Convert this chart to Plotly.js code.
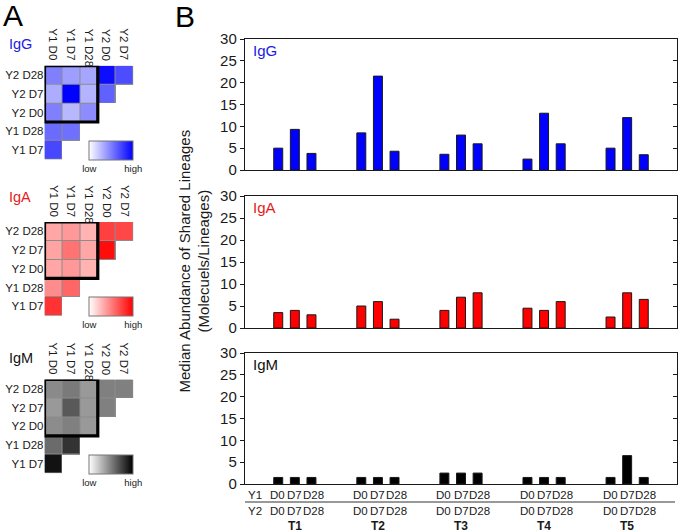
<!DOCTYPE html>
<html>
<head>
<meta charset="utf-8">
<script src="https://cdn.plot.ly/plotly-3.0.1.min.js"></script>
<style>html,body{margin:0;padding:0;background:#fff;}#chart{width:680px;height:532px;}</style>
</head>
<body>
<div id="chart"></div>
<script>
// ---------- DATA ----------
const groups = ['T1', 'T2', 'T3', 'T4', 'T5'];
const timepoints = ['D0', 'D7', 'D28'];

const igG_D0  = [5.0, 8.5, 3.6, 2.5, 5.0];
const igG_D7  = [9.3, 21.5, 8.0, 13.0, 12.0];
const igG_D28 = [3.8, 4.3, 6.0, 6.0, 3.5];

const igA_D0  = [3.5, 5.0, 4.0, 4.5, 2.5];
const igA_D7  = [4.0, 6.0, 7.0, 4.0, 8.0];
const igA_D28 = [3.0, 2.0, 8.0, 6.0, 6.5];

const igM_D0  = [1.5, 1.5, 2.5, 1.5, 1.5];
const igM_D7  = [1.5, 1.5, 2.5, 1.5, 6.5];
const igM_D28 = [1.5, 1.5, 2.5, 1.5, 1.5];

const hmCols = ['Y1 D0', 'Y1 D7', 'Y1 D28', 'Y2 D0', 'Y2 D7'];
const hmRows = ['Y2 D28', 'Y2 D7', 'Y2 D0', 'Y1 D28', 'Y1 D7'];

// relative overlap intensity (0 = low, 1 = high)
const igG_overlap = [
  [0.50, 0.38, 0.35, 0.95, 0.70],
  [0.32, 1.00, 0.30, 0.62, null],
  [0.50, 0.28, 0.45, null, null],
  [0.58, 0.56, null, null, null],
  [0.72, null, null, null, null]
];
const igA_overlap = [
  [0.35, 0.40, 0.30, 0.75, 0.72],
  [0.36, 0.55, 0.35, 0.95, null],
  [0.35, 0.40, 0.30, null, null],
  [0.45, 0.60, null, null, null],
  [0.80, null, null, null, null]
];
const igM_overlap = [
  [0.46, 0.52, 0.40, 0.50, 0.50],
  [0.40, 0.65, 0.40, 0.50, null],
  [0.45, 0.50, 0.40, null, null],
  [0.58, 0.80, null, null, null],
  [0.93, null, null, null, null]
];

// ---------- LAYOUT HELPERS ----------
const W = 680, H = 532;
const X = p => p / W;
const Y = p => 1 - p / H;
const FONT = 'Liberation Sans, Arial, sans-serif';
const TXT = '#1a1a1a';

const barPanels = [
  {name: 'IgG', color: '#0000ff', label: '#1a1ae6', top: 39, bottom: 170, series: [igG_D0, igG_D7, igG_D28]},
  {name: 'IgA', color: '#ff0000', label: '#e61a1a', top: 196, bottom: 328, series: [igA_D0, igA_D7, igA_D28]},
  {name: 'IgM', color: '#000000', label: '#111111', top: 353, bottom: 484, series: [igM_D0, igM_D7, igM_D28]}
];
const heatPanels = [
  {name: 'IgG', label: '#1a1ae6', hi: '#0000ff', z: igG_overlap, top: 65.7, labTop: 26.7, titleY: 44},
  {name: 'IgA', label: '#e61a1a', hi: '#ff0000', z: igA_overlap, top: 222, labTop: 183.3, titleY: 197},
  {name: 'IgM', label: '#111111', hi: '#000000', z: igM_overlap, top: 379.5, labTop: 340.8, titleY: 357.5}
];
const HM_LEFT = 44.5, HM_RIGHT = 133.3, HM_H = 93.8, ROW_H = HM_H / 5;
const LABEL_OFFSETS = [-0.205, 0, 0.225];

const traces = [];
const layout = {
  width: W, height: H,
  margin: {l: 0, r: 0, t: 0, b: 0},
  paper_bgcolor: '#fff', plot_bgcolor: '#fff',
  showlegend: false,
  font: {family: FONT, color: TXT},
  barmode: 'group', bargap: 0.4, bargroupgap: 0.46,
  annotations: [], shapes: []
};

// ---------- BAR PANELS ----------
barPanels.forEach((p, k) => {
  const xa = k === 0 ? 'x' : 'x' + (k + 1);
  const ya = k === 0 ? 'y' : 'y' + (k + 1);
  const yr = 'y' + (k + 7);
  p.series.forEach((vals, j) => {
    traces.push({
      type: 'bar', x: groups, y: vals, name: timepoints[j],
      xaxis: xa, yaxis: ya,
      marker: {color: p.color, line: {color: '#1a1a1a', width: 1}},
      hoverinfo: 'x+y'
    });
  });
  traces.push({type: 'scatter', x: [], y: [], xaxis: xa, yaxis: yr, hoverinfo: 'skip'});
  const axName = k === 0 ? '' : String(k + 1);
  layout['xaxis' + axName] = {
    domain: [X(245), X(677)], anchor: ya, type: 'category', categoryarray: groups,
    range: [-0.6, 4.6], showline: true, mirror: true, linecolor: '#1a1a1a', linewidth: 1.2,
    ticks: '', showticklabels: false, showgrid: false, zeroline: false, fixedrange: true
  };
  layout['yaxis' + axName] = {
    domain: [Y(p.bottom), Y(p.top)], anchor: xa, range: [0, 30], dtick: 5,
    ticks: 'outside', ticklen: 4, tickwidth: 1, tickcolor: '#1a1a1a',
    showline: true, mirror: true, linecolor: '#1a1a1a', linewidth: 1.2,
    showgrid: false, zeroline: false, fixedrange: true,
    tickfont: {size: 15, color: TXT}
  };
  layout['yaxis' + (k + 7)] = {
    overlaying: ya, side: 'right', anchor: xa, range: [0, 30], dtick: 5,
    ticks: 'inside', ticklen: 4, tickwidth: 1, tickcolor: '#1a1a1a',
    showticklabels: false, showline: false, showgrid: false, zeroline: false, fixedrange: true
  };
  layout.annotations.push({
    text: p.name, xref: 'paper', yref: 'paper', x: X(251), y: Y(p.top + 11),
    xanchor: 'left', yanchor: 'middle', showarrow: false,
    font: {size: 15, color: p.label}
  });
});

// bottom category labels
groups.forEach((g, i) => {
  timepoints.forEach((t, j) => {
    [495, 510.5].forEach(py => {
      layout.annotations.push({
        text: t, xref: 'x3', yref: 'paper', x: i + LABEL_OFFSETS[j], y: Y(py),
        xanchor: 'center', yanchor: 'middle', showarrow: false,
        font: {size: 11.5, color: TXT}
      });
    });
  });
  layout.annotations.push({
    text: '<b>' + g + '</b>', xref: 'x3', yref: 'paper', x: i, y: Y(526),
    xanchor: 'center', yanchor: 'middle', showarrow: false,
    font: {size: 12, color: TXT}
  });
});
[['Y1', 495], ['Y2', 510.5]].forEach(([t, py]) => {
  layout.annotations.push({
    text: t, xref: 'x3', yref: 'paper', x: -0.48, y: Y(py),
    xanchor: 'center', yanchor: 'middle', showarrow: false,
    font: {size: 11.5, color: TXT}
  });
});
layout.shapes.push({
  type: 'line', xref: 'paper', yref: 'paper', x0: X(245), x1: X(675), y0: Y(502), y1: Y(502),
  line: {color: '#333', width: 1}
});

// y title
layout.annotations.push({
  text: 'Median Abundance of Shared Lineages<br>(Molecuels/Lineages)',
  xref: 'paper', yref: 'paper', x: X(193.5), y: Y(261), textangle: -90,
  xanchor: 'center', yanchor: 'middle', showarrow: false,
  font: {size: 15, color: TXT}
});

// panel letters
layout.annotations.push({text: 'A', xref: 'paper', yref: 'paper', x: X(12.5), y: Y(15),
  xanchor: 'center', yanchor: 'middle', showarrow: false, font: {size: 30, color: '#000'}});
layout.annotations.push({text: 'B', xref: 'paper', yref: 'paper', x: X(185), y: Y(16),
  xanchor: 'center', yanchor: 'middle', showarrow: false, font: {size: 30, color: '#000'}});

// ---------- HEATMAPS ----------
heatPanels.forEach((p, k) => {
  const n = k + 4;
  const xa = 'x' + n, ya = 'y' + n;
  const under = p.z.map(r => r.map(v => (v === null ? null : 1)));
  traces.push({
    type: 'heatmap', x: hmCols, y: hmRows, z: under, xaxis: xa, yaxis: ya,
    colorscale: [[0, '#8c8c8c'], [1, '#8c8c8c']], showscale: false, hoverinfo: 'skip'
  });
  traces.push({
    type: 'heatmap', x: hmCols, y: hmRows, z: p.z, xaxis: xa, yaxis: ya,
    zmin: 0, zmax: 1, xgap: 1, ygap: 1,
    colorscale: [[0, '#ffffff'], [1, p.hi]],
    showscale: true,
    colorbar: {
      orientation: 'h', x: X(111.3), xanchor: 'center', y: Y(p.top + 4 * ROW_H), yanchor: 'top',
      len: 44, lenmode: 'pixels', thickness: ROW_H, thicknessmode: 'pixels',
      xpad: 0, ypad: 0, outlinewidth: 1, outlinecolor: '#777',
      tickvals: [0, 1], ticktext: ['low', 'high'], ticks: '',
      tickfont: {size: 9.5, color: TXT}
    }
  });
  layout['xaxis' + n] = {
    domain: [X(HM_LEFT), X(HM_RIGHT)], anchor: ya, type: 'category', categoryarray: hmCols,
    range: [-0.5, 4.5], showticklabels: false, ticks: '', showgrid: false, zeroline: false,
    showline: false, fixedrange: true
  };
  layout['yaxis' + n] = {
    domain: [Y(p.top + HM_H), Y(p.top)], anchor: xa, type: 'category', categoryarray: hmRows,
    range: [4.5, -0.5], ticks: '', showgrid: false, zeroline: false, showline: false,
    fixedrange: true, tickfont: {size: 11.5, color: TXT}
  };
  hmCols.forEach((c, ci) => {
    layout.annotations.push({
      text: c, xref: xa, yref: 'paper', x: ci, y: Y(p.labTop), textangle: 90,
      xanchor: 'center', yanchor: 'top', showarrow: false,
      font: {size: 11.5, color: TXT}
    });
  });
  layout.shapes.push({
    type: 'rect', xref: xa, yref: ya, x0: -0.5, x1: 2.5, y0: -0.5, y1: 2.5,
    line: {color: '#000', width: 3.2}
  });
  layout.annotations.push({
    text: p.name, xref: 'paper', yref: 'paper', x: X(7), y: Y(p.titleY),
    xanchor: 'left', yanchor: 'middle', showarrow: false,
    font: {size: 14.5, color: p.label}
  });
});

Plotly.newPlot('chart', traces, layout, {displayModeBar: false, staticPlot: true});
</script>
</body>
</html>
